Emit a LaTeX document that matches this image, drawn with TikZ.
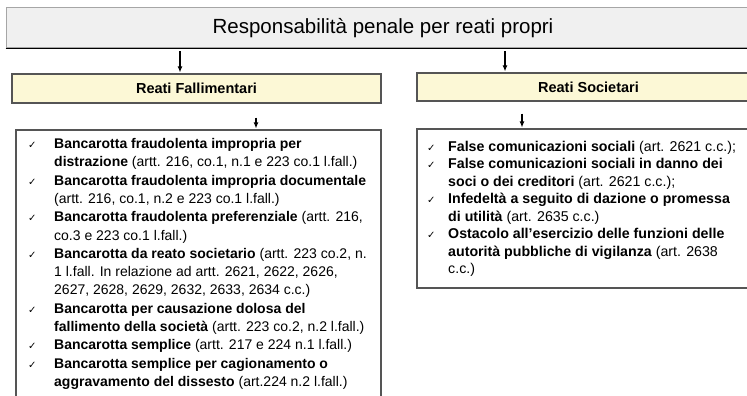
\documentclass[tikz,border=0pt]{standalone}
\usepackage{fontspec}
\setmainfont{Liberation Sans}
\newfontfamily\symfont{DejaVu Sans}
\usetikzlibrary{arrows.meta}
\definecolor{topfill}{HTML}{F0F0F0}
\definecolor{yfill}{HTML}{FCF8D6}
\definecolor{bordergray}{HTML}{555555}
\begin{document}
\begin{tikzpicture}[x=1pt,y=-1pt,
  topbox/.style={draw=gray!70, line width=1pt, fill=topfill, inner sep=0pt,
    font=\fontsize{20.5}{24}\selectfont},
  hdr/.style={draw=bordergray, line width=1.2pt, fill=yfill, inner sep=0pt,
    font=\bfseries\fontsize{14.5}{17}\selectfont},
  lbox/.style={draw=bordergray, line width=1.1pt, fill=white, inner sep=0pt},
  arr/.style={line width=1.1pt, -{Latex[length=6pt,width=5pt]}},
  lt/.style={inner sep=0pt, anchor=base west, font=\fontsize{14}{16}\selectfont},
  rt/.style={inner sep=0pt, anchor=base west, font=\fontsize{14.2}{17}\selectfont},
  ck/.style={inner sep=0pt, anchor=base west, font=\symfont\fontsize{10}{12}\selectfont}]
\useasboundingbox (0,0) rectangle (747,396);
% boxes
\node[topbox, minimum width=754pt, minimum height=40pt] (top) at (383,28) {Responsabilità penale per reati propri};
\draw[line width=1.6pt] (top.south west) -- (top.south east);
\node[hdr, minimum width=369pt, minimum height=29pt] (hf) at (196.5,88.5) {Reati Fallimentari};
\node[hdr, minimum width=343pt, minimum height=28pt] (hs) at (588.5,87) {Reati Societari};
\node[lbox, minimum width=365pt, minimum height=290pt] (lf) at (198.5,275) {};
\node[lbox, minimum width=343pt, minimum height=159pt] (ls) at (588.5,208.5) {};
% arrows
\coordinate (a1) at (180,0);
\coordinate (a2) at (505,0);
\coordinate (a3) at (256,0);
\coordinate (a4) at (522,0);
\draw[arr, shorten <=3pt, shorten >=1pt] (top.south -| a1) -- (hf.north -| a1);
\draw[arr, shorten <=3pt, shorten >=1pt] (top.south -| a2) -- (hs.north -| a2);
\draw[arr, shorten <=14pt, shorten >=1pt] (hf.south -| a3) -- (lf.north -| a3);
\draw[arr, shorten <=12pt, shorten >=1pt] (hs.south -| a4) -- (ls.north -| a4);
% left list
\node[ck] (c1) at (28,148.5) {✓};
\node[lt] (l1) at (54,148.5) {\textbf{Bancarotta fraudolenta impropria per}};
\node[lt] (l2) at (54,166.8) {\textbf{distrazione} (artt. 216, co.1, n.1 e 223 co.1 l.fall.)};
\node[ck] (c3) at (28,185.1) {✓};
\node[lt] (l3) at (54,185.1) {\textbf{Bancarotta fraudolenta impropria documentale}};
\node[lt] (l4) at (54,203.4) {(artt. 216, co.1, n.2 e 223 co.1 l.fall.)};
\node[ck] (c5) at (28,221.7) {✓};
\node[lt] (l5) at (54,221.7) {\textbf{Bancarotta fraudolenta preferenziale} (artt. 216,};
\node[lt] (l6) at (54,240.0) {co.3 e 223 co.1 l.fall.)};
\node[ck] (c7) at (28,258.3) {✓};
\node[lt] (l7) at (54,258.3) {\textbf{Bancarotta da reato societario} (artt. 223 co.2, n.};
\node[lt] (l8) at (54,276.6) {1 l.fall. In relazione ad artt. 2621, 2622, 2626,};
\node[lt] (l9) at (54,294.9) {2627, 2628, 2629, 2632, 2633, 2634 c.c.)};
\node[ck] (c10) at (28,313.2) {✓};
\node[lt] (l10) at (54,313.2) {\textbf{Bancarotta per causazione dolosa del}};
\node[lt] (l11) at (54,331.5) {\textbf{fallimento della società} (artt. 223 co.2, n.2 l.fall.)};
\node[ck] (c12) at (28,349.8) {✓};
\node[lt] (l12) at (54,349.8) {\textbf{Bancarotta semplice} (artt. 217 e 224 n.1 l.fall.)};
\node[ck] (c13) at (28,368.1) {✓};
\node[lt] (l13) at (54,368.1) {\textbf{Bancarotta semplice per cagionamento o}};
\node[lt] (l14) at (54,386.4) {\textbf{aggravamento del dissesto} (art.224 n.2 l.fall.)};
% right list
\node[ck] (d1) at (427,151.0) {✓};
\node[rt] (r1) at (448,151.0) {\textbf{False comunicazioni sociali} (art. 2621 c.c.);};
\node[ck] (d2) at (427,168.5) {✓};
\node[rt] (r2) at (448,168.5) {\textbf{False comunicazioni sociali in danno dei}};
\node[rt] (r3) at (448,186.0) {\textbf{soci o dei creditori} (art. 2621 c.c.);};
\node[ck] (d4) at (427,203.5) {✓};
\node[rt] (r4) at (448,203.5) {\textbf{Infedeltà a seguito di dazione o promessa}};
\node[rt] (r5) at (448,221.0) {\textbf{di utilità} (art. 2635 c.c.)};
\node[ck] (d6) at (427,238.5) {✓};
\node[rt] (r6) at (448,238.5) {\textbf{Ostacolo all’esercizio delle funzioni delle}};
\node[rt] (r7) at (448,256.0) {\textbf{autorità pubbliche di vigilanza} (art. 2638};
\node[rt] (r8) at (448,273.5) {c.c.)};
\end{tikzpicture}
\end{document}
